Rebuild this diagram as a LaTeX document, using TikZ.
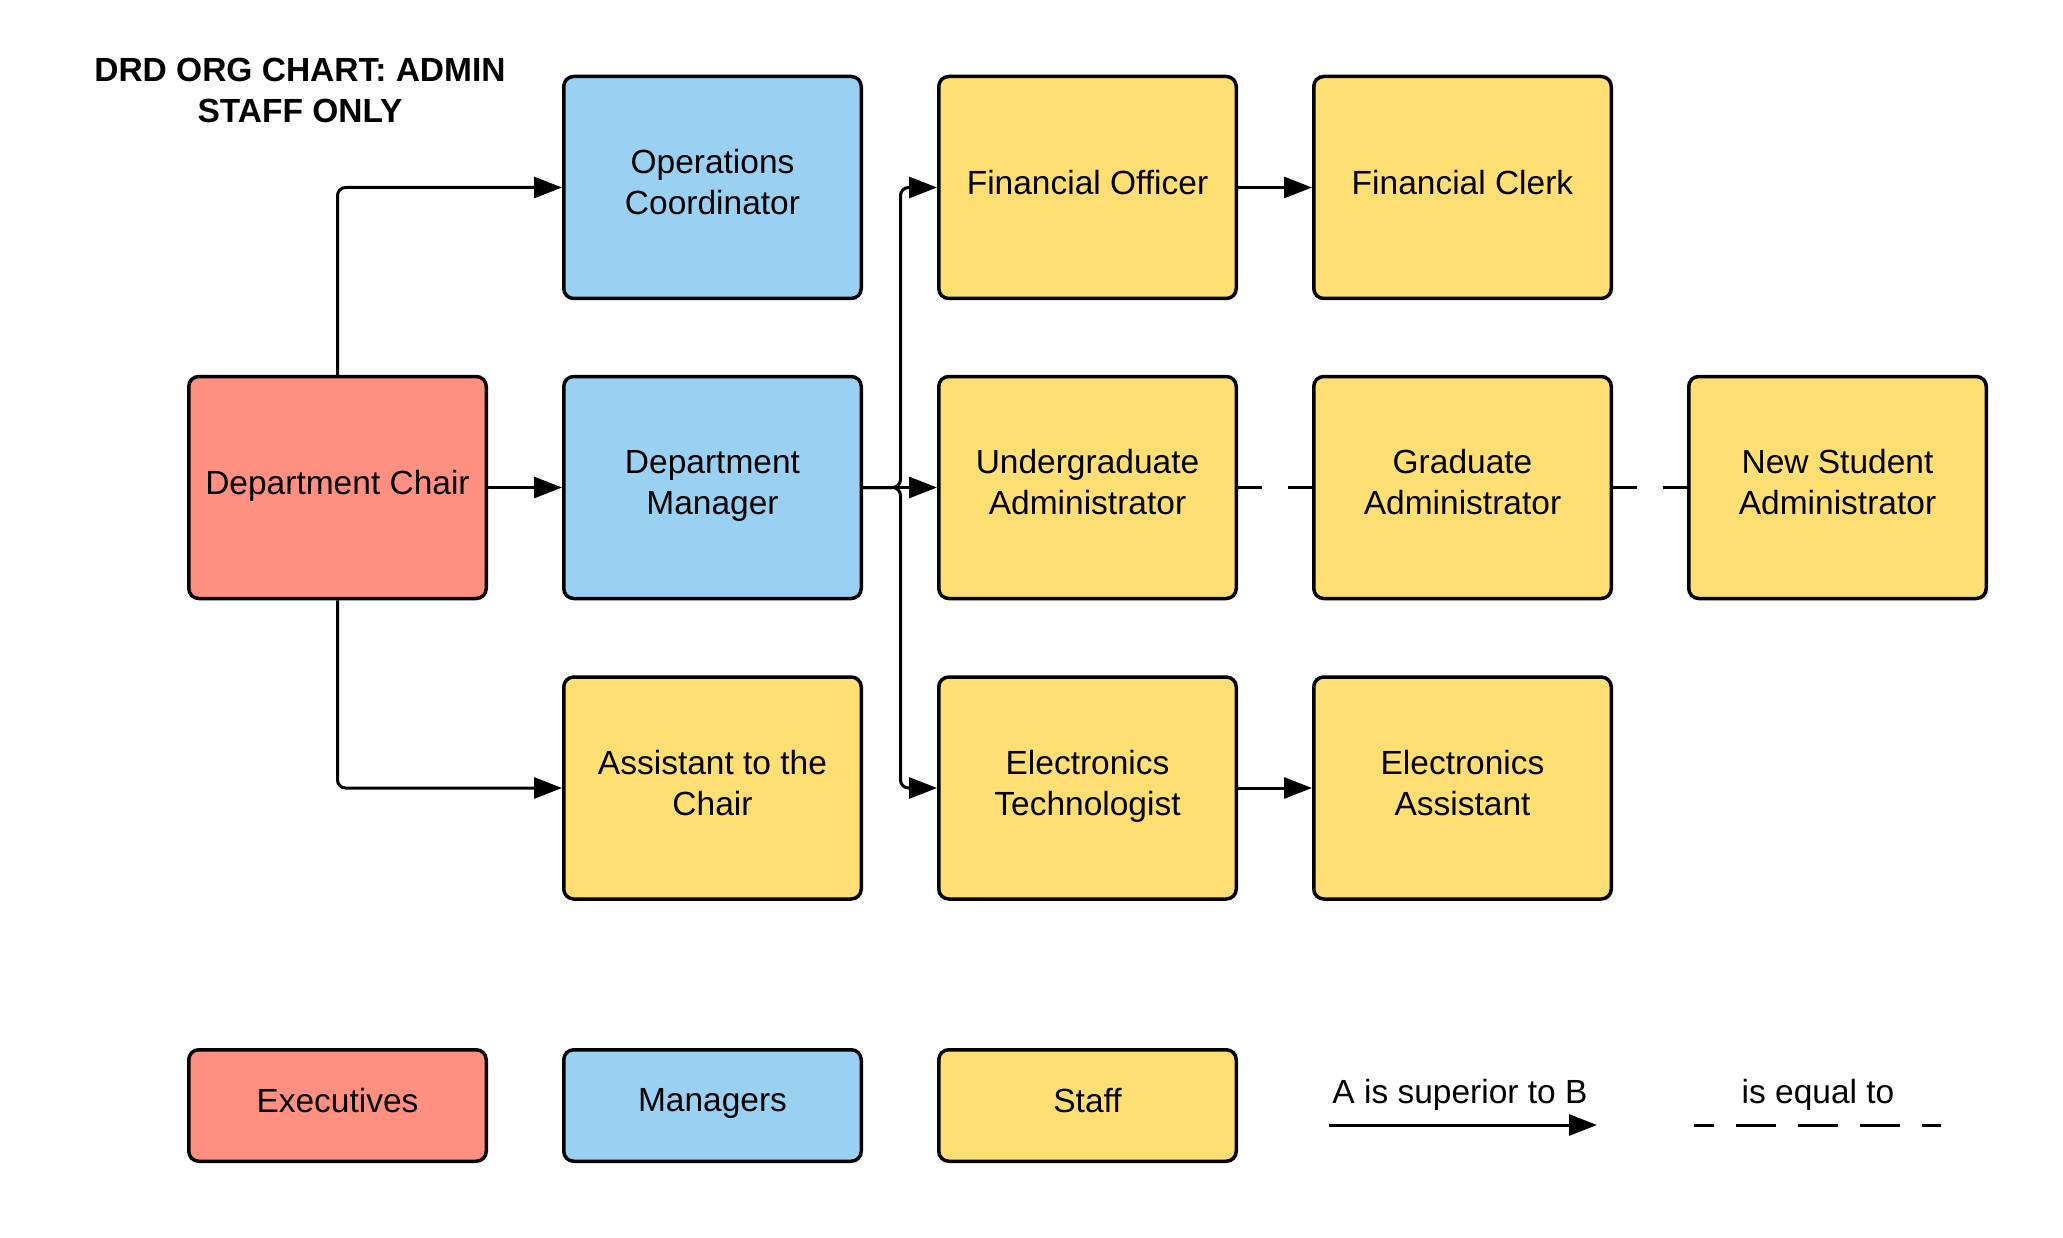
\documentclass[tikz,border=0pt]{standalone}
\usepackage{fontspec}
\setmainfont{Liberation Sans}
\usetikzlibrary{arrows.meta}
\definecolor{execred}{HTML}{FF8F80}
\definecolor{mgrblue}{HTML}{9AD1F2}
\definecolor{staffyel}{HTML}{FFDE74}
\newcommand\bxfont{\fontsize{33.5}{41}\selectfont}
\newcommand\ls{\rule[-11pt]{0pt}{23pt}}
\begin{document}
\begin{tikzpicture}[x=1pt,y=-1pt,
  box/.style={draw=black, line width=3.5pt, rounded corners=10pt,
    minimum width=297.5pt, minimum height=222pt, align=center,
    inner sep=0pt, font=\bxfont},
  legbox/.style={box, minimum height=111.5pt},
  exec/.style={fill=execred},
  mgr/.style={fill=mgrblue},
  staff/.style={fill=staffyel},
  conn/.style={draw=black, line width=3pt, rounded corners=8pt,
    -{Triangle[length=28pt,width=21pt]}},
  eqline/.style={draw=black, line width=3pt, dash pattern=on 24pt off 26pt},
  legtext/.style={font=\bxfont, inner sep=0pt, anchor=base}
]
\useasboundingbox (0,0) rectangle (2063,1238);
\fill[white] (0,0) rectangle (2063,1238);

% title
\node[font=\bxfont\bfseries, align=center, inner sep=0pt] (title) at (300,90)
  {DRD ORG CHART: ADMIN\\STAFF ONLY};

% boxes
\node[box,exec]  (chair) at (337.5,487.5)  {\ls Department Chair};
\node[box,mgr]   (ops)   at (712.5,187.5) {\ls Operations\\\ls Coordinator};
\node[box,mgr]   (dm)    at (712.5,487.5)  {\ls Department\\\ls Manager};
\node[box,staff] (asst)  at (712.5,788) {\ls Assistant to the\\\ls Chair};
\node[box,staff] (fo)    at (1087.5,187.5) {\ls Financial Officer};
\node[box,staff] (ua)    at (1087.5,487.5)   {\ls Undergraduate\\\ls Administrator};
\node[box,staff] (et)    at (1087.5,788) {\ls Electronics\\\ls Technologist};
\node[box,staff] (fc)    at (1462.5,187.5) {\ls Financial Clerk};
\node[box,staff] (ga)    at (1462.5,487.5) {\ls Graduate\\\ls Administrator};
\node[box,staff] (ea)    at (1462.5,788) {\ls Electronics\\\ls Assistant};
\node[box,staff] (nsa)   at (1837.5,487.5) {\ls New Student\\\ls Administrator};

% connectors
\draw[conn] (chair.north) |- (ops.west);
\draw[conn] (chair.east) -- (dm.west);
\draw[conn] (chair.south) |- (asst.west);
\coordinate (trunk) at (900.5,487.5);
\draw[conn] (dm.east) -- (trunk) |- (fo.west);
\draw[conn] (dm.east) -- (ua.west);
\draw[conn] (dm.east) -- (trunk) |- (et.west);
\draw[conn] (fo.east) -- (fc.west);
\draw[conn] (et.east) -- (ea.west);
\draw[eqline] (ua.east) -- (ga.west);
\draw[eqline] (ga.east) -- (nsa.west);

% legend
\node[legbox,exec]  (lexec)  at (337.5,1105.5) {\ls Executives};
\node[legbox,mgr]   (lmgr)   at (712.5,1105.5) {\ls Managers};
\node[legbox,staff] (lstaff) at (1087.5,1105.5)  {\ls Staff};
\node[legtext] (lsup) at (1460,1103.5) {A is superior to B};
\node[legtext] (leq)  at (1818,1103.5) {is equal to};
\coordinate (la1) at (1329,1125);
\coordinate (la2) at (1597,1125);
\coordinate (le1) at (1694,1125);
\coordinate (le2) at (1941,1125);
\draw[conn] (la1) -- (la2);
\draw[draw=black, line width=3pt, dash pattern=on 40pt off 22pt, dash phase=20pt] (le1) -- (le2);
\end{tikzpicture}
\end{document}
